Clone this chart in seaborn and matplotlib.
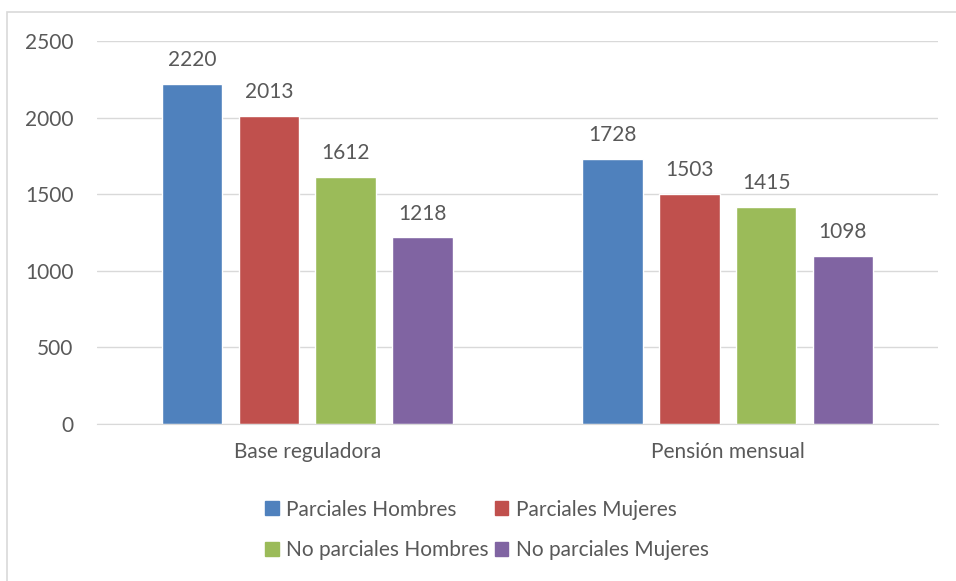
import pandas as pd
import matplotlib.pyplot as plt
import matplotlib.patches as mpatches
import seaborn as sns

categories = ["Base reguladora", "Pensión mensual"]
series = ["Parciales Hombres", "Parciales Mujeres", "No parciales Hombres", "No parciales Mujeres"]
parciales_hombres = [2220, 1728]
parciales_mujeres = [2013, 1503]
no_parciales_hombres = [1612, 1415]
no_parciales_mujeres = [1218, 1098]
colors = ["#4f81bd", "#c0504d", "#9bbb59", "#8064a2"]

# long format for seaborn
rows = []
for name, vals in zip(series, [parciales_hombres, parciales_mujeres, no_parciales_hombres, no_parciales_mujeres]):
    for cat, v in zip(categories, vals):
        rows.append({"categoria": cat, "serie": name, "valor": v})
df = pd.DataFrame(rows)

sns.set_style("white")
plt.rcParams["font.family"] = ["Lato", "DejaVu Sans"]
text_color = "#595959"
fs = 15

fig = plt.figure(figsize=(9.56, 5.81), dpi=100)
ax = fig.add_axes([97/956, 1 - 424/581, (938-97)/956, (424-41)/581])

sns.barplot(data=df, x="categoria", y="valor", hue="serie", hue_order=series,
            palette=colors, width=0.73, gap=0.21, saturation=1, ax=ax, legend=False)

for cont in ax.containers:
    ax.bar_label(cont, fmt="%d", padding=10, fontsize=fs, color=text_color)

ax.set_ylim(0, 2500)
ax.set_yticks([0, 500, 1000, 1500, 2000, 2500])
ax.set_xlim(-0.5, 1.5)
ax.yaxis.grid(True, color="#d9d9d9", linewidth=1)
ax.set_axisbelow(True)
for s in ["top", "right", "left"]:
    ax.spines[s].set_visible(False)
ax.spines["bottom"].set_color("#d9d9d9")
ax.tick_params(axis="y", length=0, pad=17, labelsize=fs, labelcolor=text_color)
ax.tick_params(axis="x", length=0, pad=13, labelsize=fs, labelcolor=text_color)
ax.set_xlabel("")
ax.set_ylabel("")

# legend filled by columns, so order handles to get rows like the original
order = [0, 2, 1, 3]
handles = [mpatches.Patch(color=colors[i], label=series[i]) for i in order]
fig.legend(handles=handles, ncol=2, loc="center", bbox_to_anchor=(487/956, 1 - 530/581),
           frameon=False, fontsize=fs, labelcolor=text_color, handlelength=0.65,
           handleheight=0.65, handletextpad=0.35, columnspacing=0.3, labelspacing=1.0)

# outer chart border
fig.patches.append(mpatches.Rectangle((7/956, -0.1), 1.0, 1 - 12/581 + 0.1,
                                      transform=fig.transFigure, fill=False,
                                      edgecolor="#d9d9d9", linewidth=1.2))

plt.savefig("out.png", dpi=100)
plt.close()
